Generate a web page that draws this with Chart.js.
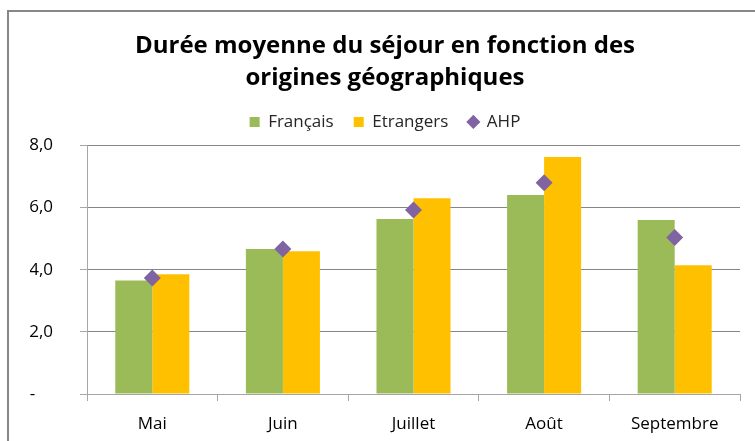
<!DOCTYPE html>
<html>
<head>
<meta charset="utf-8">
<script src="https://cdn.jsdelivr.net/npm/chart.js@4/dist/chart.umd.min.js"></script>
<style>
  html, body { margin: 0; padding: 0; background: #fff; }
  #wrap { width: 755px; height: 441px; }
</style>
</head>
<body>
<div id="wrap"><canvas id="c_chart"></canvas></div>
<script>
var months = ["Mai", "Juin", "Juillet", "Août", "Septembre"];
var francais = [3.65, 4.67, 5.63, 6.40, 5.60];
var etrangers = [3.85, 4.59, 6.30, 7.63, 4.14];
var ahp = [3.73, 4.67, 5.92, 6.80, 5.04];
var yTicks = [0, 2, 4, 6, 8];

// grey frame on the top and left edges, like the Excel chart box
var framePlugin = {
    id: "frame",
    afterDraw: function(chart) {
        var ctx = chart.ctx;
        ctx.save();
        ctx.strokeStyle = "#878787";
        ctx.lineWidth = 2;
        ctx.beginPath();
        ctx.moveTo(8, 441);
        ctx.lineTo(8, 11);
        ctx.lineTo(755, 11);
        ctx.stroke();
        ctx.restore();
    }
};

var ctx = document.getElementById("c_chart");
var chart = new Chart(ctx, {
    data: {
        labels: months,
        datasets: [{
            type: "bar",
            label: "Français",
            data: francais,
            backgroundColor: "#9BBB59",
            pointStyle: "rect",
            order: 1
        }, {
            type: "bar",
            label: "Etrangers",
            data: etrangers,
            backgroundColor: "#FFC000",
            pointStyle: "rect",
            order: 1
        }, {
            type: "line",
            label: "AHP",
            data: ahp,
            showLine: false,
            pointStyle: "rectRot",
            pointRadius: 8.5,
            pointHoverRadius: 8.5,
            pointBorderWidth: 0,
            backgroundColor: "#8064A2",
            borderColor: "#8064A2",
            order: 0
        }]
    },
    options: {
        responsive: true,
        maintainAspectRatio: false,
        animation: false,
        layout: { padding: { top: 0, right: 15, bottom: 0, left: 30 } },
        categoryPercentage: 0.567,
        barPercentage: 1.0,
        plugins: {
            title: {
                display: true,
                text: ["Durée moyenne du séjour en fonction des", "origines géographiques"],
                color: "#000",
                font: { family: "Open Sans", size: 24, weight: "bold", lineHeight: 1.3 },
                padding: { top: 31, bottom: 0 }
            },
            // empty spacer between the legend and the plot
            subtitle: {
                display: true,
                text: "",
                weight: 500,
                font: { size: 1, lineHeight: 1 },
                padding: { top: 4, bottom: 0 }
            },
            legend: {
                position: "top",
                labels: {
                    usePointStyle: true,
                    boxWidth: 10,
                    boxHeight: 10,
                    padding: 20,
                    color: "#262626",
                    font: { family: "Open Sans", size: 17 },
                    sort: function(a, b) { return a.datasetIndex - b.datasetIndex; }
                }
            },
            tooltip: { enabled: false }
        },
        scales: {
            x: {
                grid: {
                    offset: true,
                    drawOnChartArea: false,
                    drawTicks: true,
                    tickLength: 7,
                    color: "#A6A6A6"
                },
                border: { color: "#A6A6A6" },
                ticks: {
                    color: "#000",
                    padding: 13,
                    font: { family: "Open Sans", size: 17 }
                },
                afterFit: function(scale) { scale.height = 47; }
            },
            y: {
                min: 0,
                max: 8,
                afterBuildTicks: function(scale) {
                    scale.ticks = yTicks.map(function(v) { return { value: v }; });
                },
                grid: {
                    color: "#868686",
                    tickLength: 7,
                    tickColor: "#A6A6A6"
                },
                border: { color: "#A6A6A6" },
                ticks: {
                    color: "#000",
                    padding: 27,
                    font: { family: "Open Sans", size: 17 },
                    callback: function(v) {
                        return v === 0 ? "-    " : v.toFixed(1).replace(".", ",");
                    }
                },
                afterFit: function(scale) { scale.width = 57; }
            }
        }
    },
    plugins: [framePlugin]
});
</script>
</body>
</html>
